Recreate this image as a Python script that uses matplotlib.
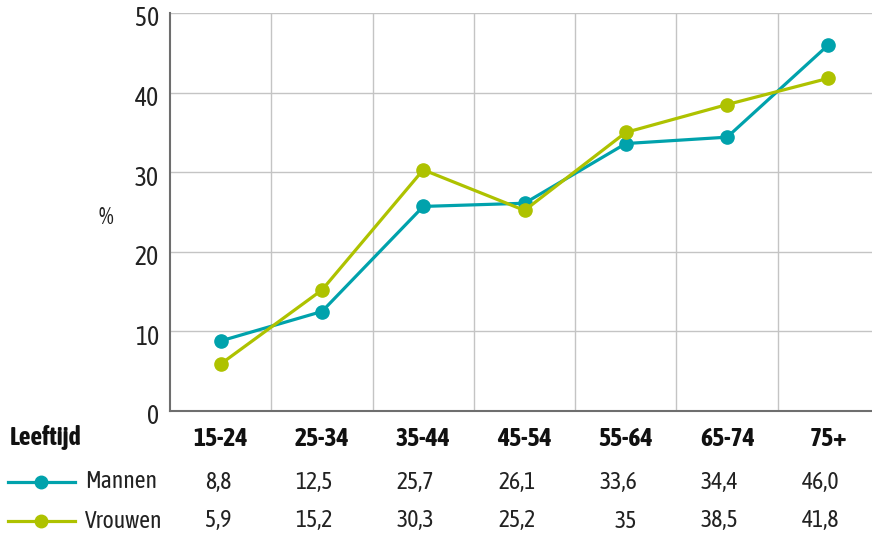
import matplotlib
matplotlib.use("Agg")
import matplotlib.pyplot as plt
import matplotlib.transforms as mtrans
from matplotlib.lines import Line2D

categories = ["15-24", "25-34", "35-44", "45-54", "55-64", "65-74", "75+"]
mannen = [8.8, 12.5, 25.7, 26.1, 33.6, 34.4, 46.0]
vrouwen = [5.9, 15.2, 30.3, 25.2, 35, 38.5, 41.8]
mannen_labels = ["8,8", "12,5", "25,7", "26,1", "33,6", "34,4", "46,0"]
vrouwen_labels = ["5,9", "15,2", "30,3", "25,2", "35", "38,5", "41,8"]
series_names = ["Mannen", "Vrouwen"]
yticks = [0, 10, 20, 30, 40, 50]

TEAL = "#00A2AC"
LIME = "#AEC200"
FONT = ["Asap Condensed", "DejaVu Sans"]
plt.rcParams["font.family"] = FONT
FS = 17
FSB = 18.5

W, H = 872, 536
fig = plt.figure(figsize=(W / 100, H / 100), dpi=100)
left, right, top, bottom = 170, 872, 13, 411
ax = fig.add_axes([left / W, 1 - bottom / H, (right - left) / W, (bottom - top) / H])

x = list(range(len(categories)))
ax.plot(x, mannen, color=TEAL, lw=2.3, marker="o", ms=9.5, zorder=3, clip_on=False)
ax.plot(x, vrouwen, color=LIME, lw=2.3, marker="o", ms=9.5, zorder=3, clip_on=False)

ax.set_xlim(-0.5, 6.43)
ax.set_ylim(0, 50)
ax.set_yticks(yticks)
ax.set_yticklabels([str(t) for t in yticks], fontsize=FSB, color="#222222")
ax.tick_params(axis="y", length=0, pad=8)
offset = mtrans.ScaledTranslation(0, -6 / 100, fig.dpi_scale_trans)
for lab in ax.get_yticklabels():
    lab.set_verticalalignment("center")
    lab.set_transform(lab.get_transform() + offset)

ax.set_xticks([i + 0.5 for i in range(len(categories) - 1)])
ax.set_xticklabels([])
ax.tick_params(axis="x", length=0)
ax.grid(True, color="#C4C4C4", lw=1)
ax.set_axisbelow(True)
for s in ["top", "right"]:
    ax.spines[s].set_visible(False)
for s in ["left", "bottom"]:
    ax.spines[s].set_color("#6E6E6E")
    ax.spines[s].set_linewidth(1.5)

fig.text(106 / W, 1 - 218 / H, "%", fontsize=FS, ha="center", va="center", color="#222222")


def fy(py):
    return 1 - py / H


fig.text(10 / W, fy(438), "Leeftijd", fontsize=FSB, fontweight="bold", ha="left", va="center", color="#111111")
for i, c in enumerate(categories):
    px = ax.transData.transform((i, 0))[0]
    fig.text(px / W, fy(438), c, fontsize=FSB, fontweight="bold", ha="center", va="center", color="#111111")
    fig.text((px + 11) / W, fy(482), mannen_labels[i], fontsize=FS, ha="right", va="center", color="#222222")
    fig.text((px + 11) / W, fy(521), vrouwen_labels[i], fontsize=FS, ha="right", va="center", color="#222222")

for name, col, py in [(series_names[0], TEAL, 482), (series_names[1], LIME, 521)]:
    fig.add_artist(Line2D([8 / W, 75 / W], [fy(py), fy(py)], color=col, lw=2.3,
                          transform=fig.transFigure))
    fig.add_artist(Line2D([41 / W], [fy(py)], color=col, marker="o", ms=9,
                          transform=fig.transFigure))
    fig.text(85 / W, fy(py), name, fontsize=FS, ha="left", va="center", color="#222222")

fig.savefig("out.png", dpi=100)
